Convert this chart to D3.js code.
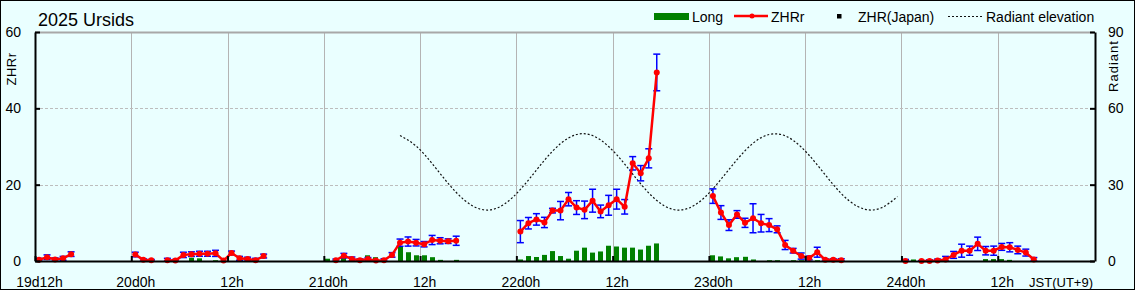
<!DOCTYPE html>
<html><head><meta charset="utf-8">
<script src="https://cdn.jsdelivr.net/npm/d3@7"></script>
<style>
html,body{margin:0;padding:0;background:#fff;}
svg{display:block;font-family:"Liberation Sans",Arial,sans-serif;}
</style></head><body>
<svg id="chart" width="1135" height="290"></svg>
<script>
// Times are hours since 2025-12-19 00:00 JST
const zhrHours = [
  12.5,13.5,14.5,15.5,16.5,
  24.5,25.5,26.5,
  28.5,29.5,30.5,31.5,32.5,33.5,34.5,35.5,36.5,37.5,38.5,39.5,40.5,
  49.5,50.5,51.5,52.5,53.5,54.5,55.5,56.5,57.5,58.5,59.5,60.5,61.5,62.5,63.5,64.5,
  72.5,73.5,74.5,75.5,76.5,77.5,78.5,79.5,80.5,81.5,82.5,83.5,84.5,85.5,86.5,87.5,88.5,89.5,
  96.5,97.5,98.5,99.5,100.5,101.5,102.5,103.5,104.5,105.5,106.5,107.5,108.5,109.5,110.5,111.5,112.5,
  120.5,
  122.5,123.5,124.5,125.5,126.5,127.5,128.5,129.5,130.5,131.5,132.5,133.5,134.5,135.5,136.5
];
const zhrValues = [
  0.3,1.0,0.4,0.7,1.8,
  1.7,0.3,0.2,
  0.2,0.1,1.6,1.8,1.9,1.9,2.0,0.1,2.1,0.7,0.5,0.2,1.3,
  0.2,1.4,0.5,0.2,0.5,0.1,0.2,1.6,4.8,5.1,4.8,4.4,5.5,5.3,5.2,5.3,
  7.7,9.9,10.9,10.1,13.2,13.2,16.2,14.0,13.4,15.8,13.0,14.6,16.2,14.2,25.6,23.0,26.9,49.4,
  17.0,12.7,9.4,12.2,10.0,11.2,9.9,9.4,8.3,4.2,2.7,1.3,0.8,2.3,0.3,0.3,0.2,
  0.0,
  0.0,0.0,0.1,0.4,1.6,2.7,2.7,4.5,2.7,2.7,3.7,3.6,2.9,2.2,0.4
];
const zhrErrors = [
  0.4,0.6,0.4,0.5,0.6,
  0.6,0.3,0.2,
  0.5,0.3,0.7,0.6,0.65,0.65,0.8,0.0,0.5,0.5,0.5,0.5,0.5,
  0.3,0.6,0.55,0.35,0.4,0.0,0.4,0.6,0.95,1.2,0.85,0.7,1.2,0.8,0.6,1.2,
  2.9,1.5,1.5,1.35,0.6,2.4,1.75,1.8,2.3,3.0,1.65,2.6,2.6,1.9,1.75,2.0,2.5,4.8,
  1.9,1.8,1.4,1.0,1.2,3.8,2.3,1.7,0.9,1.2,0.6,0.8,0.5,1.3,0.3,0.3,0.4,
  0.4,
  0.1,0.3,0.4,0.8,0.9,1.7,1.2,1.75,1.1,1.2,0.9,1.2,1.0,0.9,0.5
];
const longHours = [
  31.5,32.5,34.5,
  48.5,50.5,51.5,53.5,54.5,57.5,58.5,59.5,60.5,61.5,62.5,64.5,
  72.5,73.5,74.5,75.5,76.5,77.5,78.5,79.5,80.5,81.5,82.5,83.5,84.5,85.5,86.5,87.5,88.5,89.5,
  96.5,97.5,98.5,99.5,100.5,101.5,103.5,104.5,106.5,107.5,109.5,110.5,111.5,
  120.5,121.5,130.5,131.5,132.5,133.5
];
const longValues = [
  0.85,0.7,0.2,
  0.6,1.1,0.3,1.5,1.0,3.7,2.3,1.5,1.5,1.0,0.3,0.3,
  0.4,1.3,1.05,1.6,2.6,1.3,0.6,2.7,3.5,2.2,2.5,4.0,3.8,3.5,3.5,3.0,4.0,4.6,
  1.5,1.2,0.7,1.0,1.1,0.4,0.2,0.2,0.2,0.2,0.2,0.5,0.8,
  0.4,0.4,0.5,0.5,0.5,0.3
];
const radiantHours = [57.5,59.5,61.5,63.5,65.5,67.5,69.5,71.5,73.5,75.5,77.5,79.5,81.5,83.5,85.5,87.5,
  89.5,91.5,93.5,95.5,97.5,99.5,101.5,103.5,105.5,107.5,109.5,111.5,113.5,115.5,117.5,119.5];
const radiantValues = [49.3,45.2,38.3,30.5,24.0,20.4,20.7,24.9,31.8,39.6,46.1,49.7,49.3,45.0,38.1,30.3,
  23.8,20.3,20.8,25.1,32.1,39.8,46.3,49.7,49.2,44.8,37.8,30.0,23.6,20.3,20.9,25.3];
const xTickHours = [12,24,36,48,60,72,84,96,108,120,132];
const xTickLabels = ["19d12h","20d0h","12h","21d0h","12h","22d0h","12h","23d0h","12h","24d0h","12h"];
const yTicks = [0,20,40,60];
const yRightTicks = [0,30,60,90];

const W=1135,H=290,L=35,R=1094,T=32,B=261;
const svg=d3.select("#chart");
svg.append("rect").attr("x",0.5).attr("y",0.5).attr("width",W-1).attr("height",H-1)
  .attr("fill","#EAFFFF").attr("stroke","#000");

const x=d3.scaleLinear().domain([12,144]).range([L,R]);
const y=d3.scaleLinear().domain([0,60]).range([B,T]);
const yr=d3.scaleLinear().domain([0,90]).range([B,T]);
const px=v=>Math.round(v)+0.5;

// grid
svg.append("g").selectAll("line").data(xTickHours.slice(1)).join("line")
  .attr("x1",d=>px(x(d))).attr("x2",d=>px(x(d))).attr("y1",T).attr("y2",B)
  .attr("stroke","#b4b4b4").attr("stroke-width",1);
svg.append("g").selectAll("line").data([20,40]).join("line")
  .attr("x1",L).attr("x2",R).attr("y1",d=>px(y(d))).attr("y2",d=>px(y(d)))
  .attr("stroke","#bdbdbd").attr("stroke-dasharray","3,2");
svg.append("line").attr("x1",L).attr("x2",R).attr("y1",T+0.5).attr("y2",T+0.5)
  .attr("stroke","#a8a8a8").attr("stroke-width",2);

// bars
svg.append("g").selectAll("rect").data(longHours.map((h,i)=>({h,v:longValues[i]}))).join("rect")
  .attr("x",d=>Math.round(x(d.h)-2.5)).attr("width",5)
  .attr("y",d=>y(d.v)).attr("height",d=>B-y(d.v)).attr("fill","#008000");

// radiant
const rad=radiantHours.map((h,i)=>({h,v:radiantValues[i]}));
svg.append("path").datum(rad)
  .attr("d",d3.line().x(d=>x(d.h)).y(d=>yr(d.v)).curve(d3.curveNatural))
  .attr("fill","none").attr("stroke","#111").attr("stroke-width",1.2).attr("stroke-dasharray","2,2");

// zhr data
const pts=zhrHours.map((h,i)=>({h,v:zhrValues[i],e:zhrErrors[i]}));
const eb=svg.append("g").attr("stroke","#0000ff").attr("stroke-width",1.5);
pts.filter(d=>d.e>0).forEach(d=>{
  const xc=x(d.h), y1=y(Math.max(0,d.v-d.e)), y2=y(d.v+d.e);
  eb.append("line").attr("x1",xc).attr("x2",xc).attr("y1",y1).attr("y2",y2);
  eb.append("line").attr("x1",xc-3.5).attr("x2",xc+3.5).attr("y1",y1).attr("y2",y1);
  eb.append("line").attr("x1",xc-3.5).attr("x2",xc+3.5).attr("y1",y2).attr("y2",y2);
});
const segs=[];let cur=[];
pts.forEach((d,i)=>{ if(i>0 && d.h-pts[i-1].h>1.5){segs.push(cur);cur=[];} cur.push(d);});
segs.push(cur);
const ln=d3.line().x(d=>x(d.h)).y(d=>y(d.v));
svg.append("g").selectAll("path").data(segs).join("path").attr("d",ln)
  .attr("fill","none").attr("stroke","#ff0000").attr("stroke-width",2.5).attr("stroke-linejoin","round");
svg.append("g").selectAll("circle").data(pts).join("circle")
  .attr("cx",d=>x(d.h)).attr("cy",d=>y(d.v)).attr("r",3).attr("fill","#ff0000");

// axes
const fs="14px";
const gl=svg.append("g").attr("transform",`translate(${L},0)`)
  .call(d3.axisLeft(y).tickValues(yTicks).tickSize(-5).tickSizeOuter(0).tickPadding(14));
const gr=svg.append("g").attr("transform",`translate(${R+1},0)`)
  .call(d3.axisRight(yr).tickValues(yRightTicks).tickSize(-5).tickSizeOuter(0).tickPadding(13));
const gb=svg.append("g").attr("transform",`translate(0,${B})`)
  .call(d3.axisBottom(x).tickValues(xTickHours).tickSize(-5).tickSizeOuter(0).tickPadding(16)
  .tickFormat((d,i)=>xTickLabels[i]));
gb.selectAll("text").attr("dx",4);
[gl,gr,gb].forEach(g=>{
  g.select(".domain").attr("stroke","#000").attr("stroke-width",2);
  g.selectAll(".tick line").attr("stroke","#000").attr("stroke-width",2);
  g.selectAll("text").attr("font-size",fs).attr("fill","#000").attr("font-family","Liberation Sans, Arial, sans-serif");
});
svg.append("text").attr("x",R-1).attr("y",287).attr("text-anchor","end")
  .attr("font-size","13px").text("JST(UT+9)");

// axis titles
svg.append("text").attr("transform","translate(16,69) rotate(-90)").attr("text-anchor","middle")
  .attr("font-size","13px").attr("letter-spacing","0.5").text("ZHRr");
svg.append("text").attr("transform","translate(1118,66) rotate(-90)").attr("text-anchor","middle")
  .attr("font-size","13px").attr("letter-spacing","1").text("Radiant");

// title
svg.append("text").attr("x",38).attr("y",26).attr("font-size","18px").text("2025 Ursids");

// legend
const lg=svg.append("g").attr("font-size","14px");
lg.append("rect").attr("x",654).attr("y",13).attr("width",35).attr("height",7).attr("fill","#008000");
lg.append("text").attr("x",692).attr("y",22).text("Long");
lg.append("line").attr("x1",734).attr("x2",768).attr("y1",16).attr("y2",16).attr("stroke","#ff0000").attr("stroke-width",2.5);
lg.append("circle").attr("cx",752).attr("cy",16).attr("r",2.5).attr("fill","#ff0000");
lg.append("text").attr("x",771).attr("y",22).text("ZHRr");
lg.append("rect").attr("x",837).attr("y",14).attr("width",4.5).attr("height",4.5).attr("fill","#000");
lg.append("text").attr("x",858).attr("y",22).text("ZHR(Japan)");
lg.append("line").attr("x1",948).attr("x2",984).attr("y1",16.5).attr("y2",16.5).attr("stroke","#111").attr("stroke-width",1.2).attr("stroke-dasharray","2,2");
lg.append("text").attr("x",986).attr("y",22).text("Radiant elevation");
</script>
</body></html>
